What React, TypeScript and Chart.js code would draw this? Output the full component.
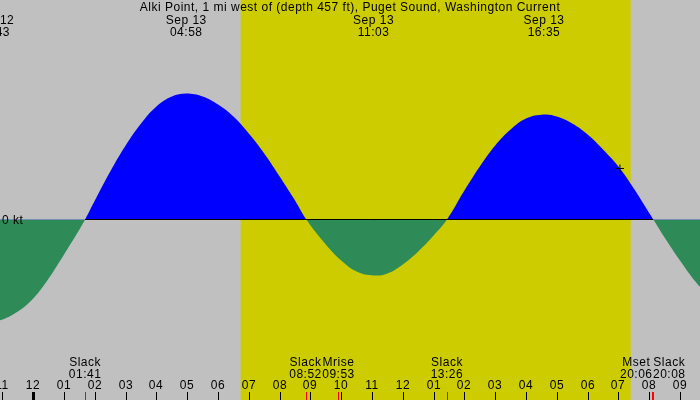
import React, { useEffect, useRef } from 'react';
import { Chart, registerables } from 'chart.js';

Chart.register(...registerables);

const TITLE = 'Alki Point, 1 mi west of (depth 457 ft), Puget Sound, Washington Current';

// current speed (kt), hours from midnight Sep 13
const curveHours = [
  -2, -1.5, -1.283, -1, -0.5, 0, 0.5, 1, 1.5, 1.683,
  2, 2.5, 3, 3.5, 4, 4.5, 4.967, 5.5, 6, 6.5, 7, 7.5, 8, 8.5, 8.867,
  9.5, 10, 10.5, 11.05, 11.5, 12, 12.5, 13, 13.433,
  14, 14.5, 15, 15.5, 16, 16.583, 17, 17.5, 18, 18.5, 19, 19.5, 20.133,
  20.5, 21, 21.5, 22,
];
const curveKt = [
  -0.94, -1.0, -1.01, -1.0, -0.92, -0.79, -0.59, -0.35, -0.1, 0,
  0.19, 0.48, 0.74, 0.96, 1.13, 1.23, 1.26, 1.23, 1.15, 1.03, 0.86, 0.66, 0.43, 0.19, 0,
  -0.25, -0.41, -0.52, -0.56, -0.54, -0.45, -0.32, -0.16, 0,
  0.29, 0.53, 0.74, 0.9, 1.01, 1.05, 1.03, 0.96, 0.85, 0.7, 0.53, 0.31, 0,
  -0.18, -0.41, -0.62, -0.79,
];

const peakDates = ['Sep 12', 'Sep 13', 'Sep 13', 'Sep 13'];
const peakTimes = ['22:43', '04:58', '11:03', '16:35'];

const eventNames = ['Slack', 'Slack', 'Mrise', 'Slack', 'Mset', 'Slack'];
const eventTimes = ['01:41', '08:52', '09:53', '13:26', '20:06', '20:08'];

const hourLabels = ['11', '12', '01', '02', '03', '04', '05', '06', '07', '08', '09', '10', '11', '12', '01', '02', '03', '04', '05', '06', '07', '08', '09'];
const firstHour = -1;

const sunrise = '06:44';
const sunset = '19:24';
const nowHour = 19.05;
const nowKt = 0.51;

const FONT = '12px "Liberation Sans", Arial, sans-serif';

const toHours = (t: string, date = 'Sep 13') => {
  const [h, m] = t.split(':').map(Number);
  return h + m / 60 - (date === 'Sep 12' ? 24 : 0);
};

const decorPlugin = {
  id: 'decor',
  beforeDraw(chart: any) {
    const { ctx, width, height } = chart;
    const xs = chart.scales.x;
    ctx.save();
    ctx.fillStyle = '#c0c0c0';
    ctx.fillRect(0, 0, width, height);
    const x1 = xs.getPixelForValue(toHours(sunrise));
    const x2 = xs.getPixelForValue(toHours(sunset));
    ctx.fillStyle = '#cccc00';
    ctx.fillRect(x1, 0, x2 - x1, height);
    ctx.restore();
  },
  afterDraw(chart: any) {
    const { ctx, width, height } = chart;
    const xs = chart.scales.x;
    const ys = chart.scales.y;
    ctx.save();
    ctx.font = FONT;
    ctx.letterSpacing = '0.5px';
    ctx.fillStyle = '#000';
    ctx.textAlign = 'center';
    ctx.textBaseline = 'alphabetic';
    ctx.fillText(TITLE, width / 2, 11);

    peakTimes.forEach((t, i) => {
      const x = xs.getPixelForValue(toHours(t, peakDates[i]));
      ctx.fillText(peakDates[i], x, 24);
      ctx.fillText(t, x, 36);
    });

    ctx.textAlign = 'left';
    ctx.fillText('0 kt', 2, ys.getPixelForValue(0) + 4.5);

    // hour ticks
    ctx.textAlign = 'center';
    ctx.strokeStyle = '#000';
    hourLabels.forEach((lab, i) => {
      const h = firstHour + i;
      const x = Math.round(xs.getPixelForValue(h));
      ctx.lineWidth = h % 24 === 0 ? 3 : 1;
      ctx.beginPath();
      ctx.moveTo(x + 0.5, height - 8);
      ctx.lineTo(x + 0.5, height);
      ctx.stroke();
      ctx.fillText(lab, x, 389);
    });

    // events: red ticks and labels, pushed apart when they collide
    const xsEv = eventTimes.map((t) => xs.getPixelForValue(toHours(t)));
    ctx.strokeStyle = '#ff0000';
    ctx.lineWidth = 1;
    xsEv.forEach((x) => {
      const px = Math.round(x) + 0.5;
      ctx.beginPath();
      ctx.moveTo(px, height - 8);
      ctx.lineTo(px, height);
      ctx.stroke();
    });
    const labelX = [...xsEv];
    const gap = 33;
    for (let i = 1; i < labelX.length; i++) {
      if (labelX[i] - labelX[i - 1] < gap) {
        const mid = (labelX[i] + labelX[i - 1]) / 2;
        labelX[i - 1] = mid - gap / 2;
        labelX[i] = mid + gap / 2;
      }
    }
    eventNames.forEach((n, i) => {
      ctx.fillText(n, labelX[i], 366);
      ctx.fillText(eventTimes[i], labelX[i], 378);
    });
    ctx.restore();
  },
};

const App: React.FC = () => {
  const chartRef = useRef<HTMLCanvasElement>(null);
  const chartInstance = useRef<Chart | null>(null);

  useEffect(() => {
    document.body.style.margin = '0';
    if (chartInstance.current) {
      chartInstance.current.destroy();
    }
    if (chartRef.current) {
      const ctx = chartRef.current.getContext('2d');
      if (ctx) {
        const slackHours = eventTimes.filter((_, i) => eventNames[i] === 'Slack').map((t) => toHours(t));
        chartInstance.current = new Chart(ctx, {
          type: 'line',
          data: {
            datasets: [
              {
                label: 'zero',
                data: [
                  { x: slackHours[0], y: 0 },
                  { x: slackHours[slackHours.length - 1], y: 0 },
                ],
                borderColor: '#000',
                borderWidth: 1,
                pointRadius: 0,
                fill: false,
              },
              {
                label: 'now',
                data: [{ x: nowHour, y: nowKt }],
                showLine: false,
                pointStyle: 'cross',
                pointRadius: 4,
                borderColor: '#000',
                borderWidth: 1,
              },
              {
                label: 'current',
                data: curveHours.map((h, i) => ({ x: h, y: curveKt[i] })),
                borderColor: 'transparent',
                borderWidth: 0,
                pointRadius: 0,
                tension: 0.4,
                fill: { target: { value: 0 }, above: '#0000ff', below: '#2e8b57' },
              },
            ],
          },
          options: {
            animation: false,
            responsive: false,
            events: [],
            layout: { padding: 0, autoPadding: false },
            plugins: {
              legend: { display: false },
              tooltip: { enabled: false },
            },
            scales: {
              x: { type: 'linear', display: false, min: -1.08, max: 21.65 },
              y: { type: 'linear', display: false, min: -1.805, max: 2.195 },
            },
          },
          plugins: [decorPlugin],
        });
      }
    }
    return () => {
      if (chartInstance.current) {
        chartInstance.current.destroy();
        chartInstance.current = null;
      }
    };
  }, []);

  return (
    <div style={{ width: '700px', height: '400px' }}>
      <canvas ref={chartRef} width={700} height={400}></canvas>
    </div>
  );
};

export default App;
